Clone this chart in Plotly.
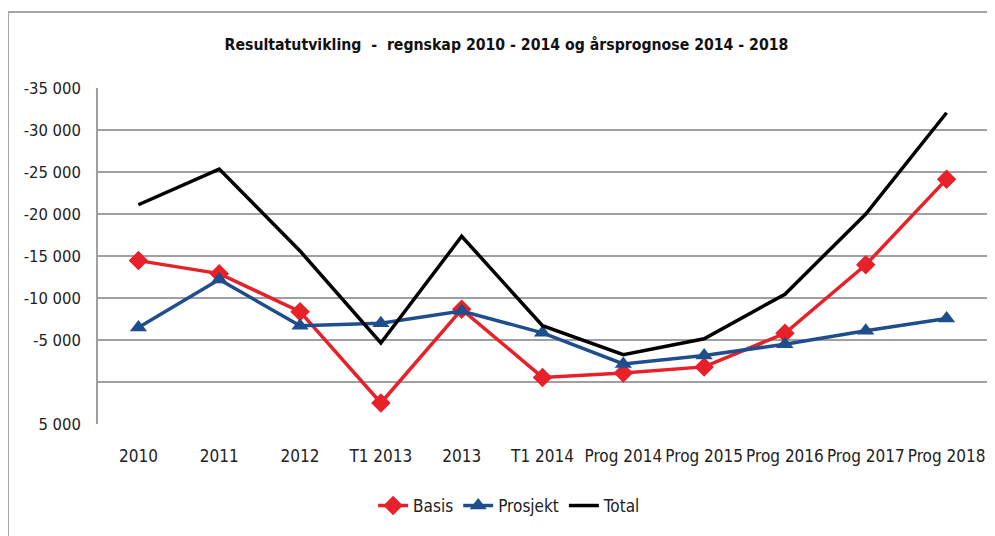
import plotly.graph_objects as go

categories = ["2010", "2011", "2012", "T1 2013", "2013", "T1 2014",
              "Prog 2014", "Prog 2015", "Prog 2016", "Prog 2017", "Prog 2018"]
basis = [-14450, -12900, -8370, 2500, -8650, -550, -1070, -1800, -5800, -13950, -24150]
prosjekt = [-6500, -12200, -6700, -7000, -8450, -5850, -2150, -3150, -4500, -6100, -7550]
total = [-21100, -25350, -15600, -4650, -17350, -6700, -3250, -5150, -10450, -20000, -32050]

y_ticks = [-35000, -30000, -25000, -20000, -15000, -10000, -5000, 0, 5000]
y_labels = ["-35 000", "-30 000", "-25 000", "-20 000", "-15 000", "-10 000", "-5 000", "", "5 000"]

FONT = "DejaVu Sans Condensed, Roboto, sans-serif"

fig = go.Figure()
fig.add_trace(go.Scatter(
    x=categories, y=basis, name="Basis", mode="lines+markers",
    line=dict(color="#e8202a", width=3.5),
    marker=dict(symbol="diamond", size=15, color="#e8202a"),
))
fig.add_trace(go.Scatter(
    x=categories, y=prosjekt, name="Prosjekt", mode="lines+markers",
    line=dict(color="#1f4e8c", width=3.5),
    marker=dict(symbol="triangle-up", size=15, color="#1f4e8c"),
))
fig.add_trace(go.Scatter(
    x=categories, y=total, name="Total", mode="lines",
    line=dict(color="#000000", width=3.5),
))

fig.update_layout(
    width=987, height=528,
    margin=dict(l=90, r=8, t=80, b=112, autoexpand=False),
    paper_bgcolor="white", plot_bgcolor="white",
    font=dict(family=FONT, size=17, color="#222222"),
    title=dict(
        text="<b>Resultatutvikling  -  regnskap 2010 - 2014 og årsprognose 2014 - 2018</b>",
        xref="paper", x=0.4595, xanchor="center", y=0.93, yanchor="middle",
        font=dict(family=FONT, size=15.7, color="#111111"),
    ),
    xaxis=dict(
        showgrid=False, showline=False, ticks="", tickangle=0, automargin=False,
        ticklabelstandoff=20, tickfont=dict(size=17), range=[-0.5, 10.5],
    ),
    yaxis=dict(
        range=[5000, -35000], tickvals=y_ticks, ticktext=y_labels,
        showgrid=True, gridcolor="#a0a0a0", gridwidth=1.5,
        showline=True, linecolor="#a0a0a0", linewidth=1.5, automargin=False,
        zeroline=False, ticks="", ticklabelstandoff=12, tickfont=dict(size=16.5),
    ),
    legend=dict(
        orientation="h", x=0.463, xanchor="center", y=-0.244, yanchor="middle",
        font=dict(size=17), traceorder="normal",
    ),
    showlegend=True,
    shapes=[dict(
        type="rect", xref="paper", yref="paper",
        x0=-0.1012, x1=1.05, y0=-0.5, y1=1.226,
        line=dict(color="#a6a6a6", width=2), layer="below",
    )],
)

fig.write_html("out.html")
